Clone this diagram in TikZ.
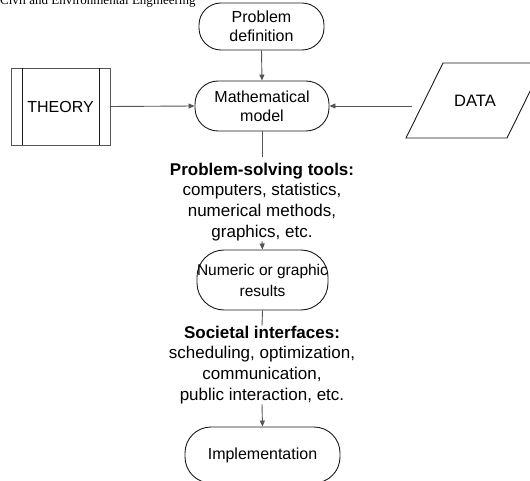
\documentclass[tikz,border=0pt]{standalone}
\usepackage{fontspec}
\setmainfont{Liberation Sans}
\newfontfamily\hdrfont{Liberation Serif}
\usetikzlibrary{arrows.meta}
\definecolor{conn}{HTML}{555555}
\definecolor{edge}{HTML}{1A1A1A}
\tikzset{
  term/.style={draw=edge, line width=0.9pt, inner sep=0pt, align=center,
    font=\fontsize{16}{19}\selectfont},
  conline/.style={draw=conn, line width=0.9pt},
  conarrow/.style={conline, -{Triangle[length=6pt,width=5pt]}},
  midtext/.style={inner sep=0pt, align=center, font=\fontsize{17}{20.8}\selectfont},
}
\begin{document}
\begin{tikzpicture}[x=1pt,y=-1pt]
\useasboundingbox (0,0) rectangle (530,481);
\clip (0,0) rectangle (530,481);
% header
\node[anchor=base west, inner sep=0pt, font=\hdrfont\fontsize{13}{15}\selectfont] (hdr) at (0,5) {Civil and Environmental Engineering};
% terminators
\node[term, minimum width=125pt, minimum height=47pt, rounded corners=22pt] (pd) at (261.5,26.5) {Problem\\definition};
\node[term, minimum width=134pt, minimum height=50pt, rounded corners=23pt] (model) at (262,106) {Mathematical\\model};
\node[term, minimum width=131pt, minimum height=60pt, rounded corners=27pt, font=\fontsize{15.5}{21}\selectfont] (num) at (262.5,280) {Numeric or graphic\\results};
\node[term, minimum width=155pt, minimum height=56pt, rounded corners=26pt] (impl) at (262.5,455) {Implementation};
% theory
\node[draw=conn, line width=0.9pt, minimum width=99pt, minimum height=77pt, inner sep=0pt,
  font=\fontsize{16}{19}\selectfont] (theory) at (60.5,106.5) {THEORY};
\draw[draw=edge, line width=0.9pt] ([xshift=12pt]theory.north west) -- ([xshift=12pt]theory.south west);
\draw[draw=edge, line width=0.9pt] ([xshift=-11pt]theory.north east) -- ([xshift=-11pt]theory.south east);
% data
\draw[draw=edge, line width=0.9pt] (443,63) -- (544,63) -- (507,138) -- (406,138) -- cycle;
\node[inner sep=0pt, font=\fontsize{16.5}{19}\selectfont] (data) at (475,100.5) {DATA};
\coordinate (dataL) at (412,106);
% middle texts
\node[midtext, anchor=north] (tools) at (262,162.6)
  {\textbf{Problem-solving tools:}\\computers, statistics,\\numerical methods,\\graphics, etc.};
\node[midtext, anchor=north] (soc) at (262,325.6)
  {\textbf{Societal interfaces:}\\scheduling, optimization,\\communication,\\public interaction, etc.};
% connectors
\draw[conarrow] (pd.south) -- (model.north);
\draw[conarrow] (theory.east) -- (model.west);
\draw[conarrow] (dataL) -- (model.east);
\draw[conline, shorten >=5.5pt] (model.south) -- (tools.north);
\draw[conarrow] (tools.south) -- (num.north);
\draw[conline] (num.south) -- (soc.north);
\draw[conarrow] (soc.south) -- (impl.north);
\end{tikzpicture}
\end{document}
